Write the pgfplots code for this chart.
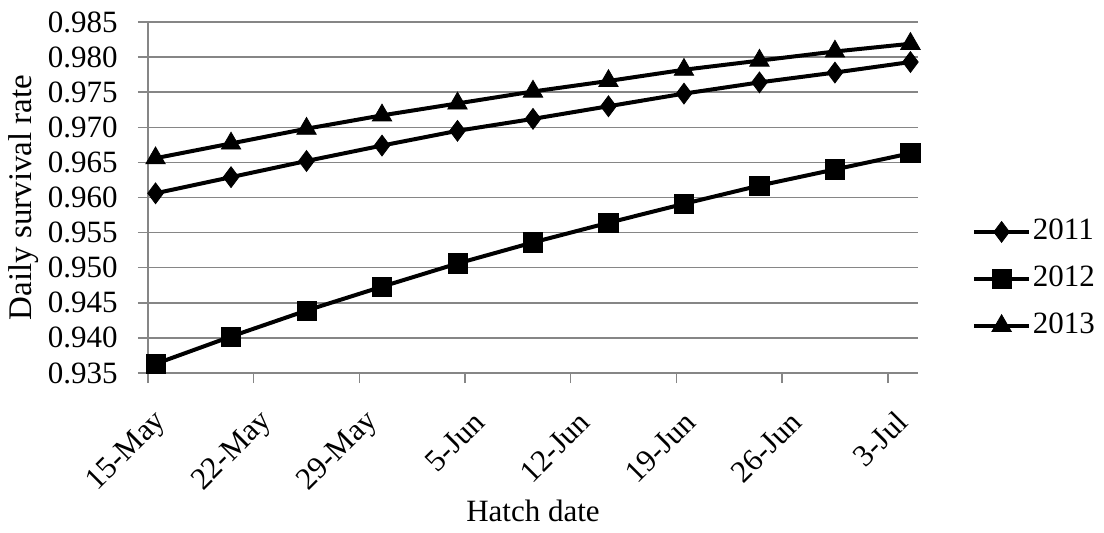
\documentclass[border=0pt]{standalone}
\usepackage{fontspec}
\setmainfont{Liberation Serif}
\usepackage{pgfplots}
\pgfplotsset{compat=1.18}
\definecolor{gridgray}{RGB}{134,134,134}
\begin{document}
\fontsize{15.5}{18.6}\selectfont
\begin{tikzpicture}
\begin{axis}[
  scale only axis,
  width=385pt, height=175.5pt,
  xmin=0, xmax=51, ymin=0.935, ymax=0.985,
  clip=false,
  axis x line*=bottom, axis y line*=left,
  axis line style={gridgray, line width=0.75pt},
  xtick={0,7,...,49},
  xticklabels={15-May,22-May,29-May,5-Jun,12-Jun,19-Jun,26-Jun,3-Jul},
  ytick={0.935,0.940,...,0.986},
  ymajorgrids,
  major grid style={gridgray, line width=0.75pt},
  tick align=outside,
  major tick length=5pt,
  tick style={gridgray, line width=0.75pt},
  /pgf/number format/assume math mode=true,
  yticklabel style={/pgf/number format/.cd, fixed, fixed zerofill, precision=3, /tikz/.cd, anchor=east, inner sep=0pt, xshift=-10pt},
  xticklabel style={rotate=45, anchor=east, inner sep=0pt, yshift=-17pt, xshift=-7pt},
  xlabel={Hatch date},
  ylabel={\fontsize{16.5}{19}\selectfont Daily survival rate},
  every axis x label/.style={at={(axis description cs:0.5,-0.393)}, anchor=center},
  every axis y label/.style={at={(axis description cs:-0.161,0.5)}, rotate=90, anchor=center},
  legend cell align=left,
  legend style={draw=none, fill=none, at={(axis description cs:1.07,0.268)}, anchor=west, inner sep=0pt, row sep=9.5pt, column sep=1pt, nodes={text height=11pt, text depth=3pt, inner sep=0pt}},
  legend image code/.code={\draw[mark repeat=2, mark phase=2] plot coordinates {(0cm,0cm) (0.48cm,0cm) (0.96cm,0cm)};},
]
\addplot[black, line width=2pt, mark=diamond*, mark size=5.2pt, mark options={solid, line width=0.4pt, fill=black}] coordinates {
(0.5,0.9606) (5.5,0.9629) (10.5,0.9652) (15.5,0.9674) (20.5,0.9695) (25.5,0.9712) (30.5,0.9730) (35.5,0.9748) (40.5,0.9764) (45.5,0.9778) (50.5,0.9793)};
\addlegendentry{2011}
\addplot[black, line width=2pt, mark=square*, mark size=4.8pt, mark options={solid, line width=0.4pt, fill=black}] coordinates {
(0.5,0.9363) (5.5,0.9402) (10.5,0.9439) (15.5,0.9473) (20.5,0.9506) (25.5,0.9536) (30.5,0.9564) (35.5,0.9591) (40.5,0.9617) (45.5,0.9640) (50.5,0.9663)};
\addlegendentry{2012}
\addplot[black, line width=2pt, mark=triangle*, mark size=5.6pt, mark options={solid, line width=0.4pt, fill=black}] coordinates {
(0.5,0.9656) (5.5,0.9677) (10.5,0.9698) (15.5,0.9717) (20.5,0.9734) (25.5,0.9751) (30.5,0.9766) (35.5,0.9782) (40.5,0.9795) (45.5,0.9808) (50.5,0.9819)};
\addlegendentry{2013}
\coordinate (bl) at (rel axis cs:-0.1922,-0.4558);
\coordinate (tr) at (rel axis cs:1.2416,1.0627);
\end{axis}
\pgfresetboundingbox
\path[use as bounding box] (bl) rectangle (tr);
\end{tikzpicture}
\end{document}
